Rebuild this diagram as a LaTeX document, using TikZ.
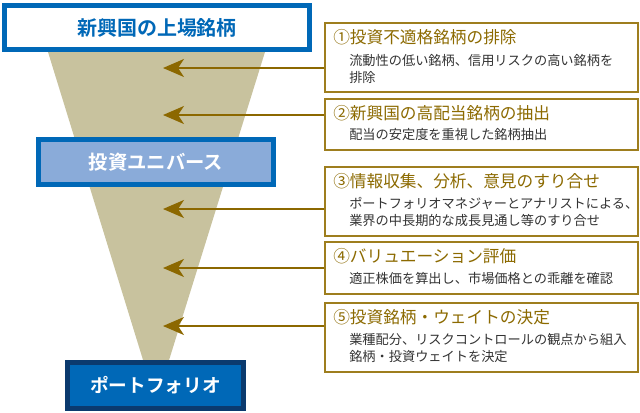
\documentclass[tikz,border=0pt]{standalone}
\usepackage{fontspec}
\setmainfont{Noto Sans CJK JP}[BoldFont={Noto Sans CJK JP Bold}]
\usepackage{xcolor}
\usetikzlibrary{positioning, arrows.meta}

\definecolor{stageblue}{HTML}{0068B7}
\definecolor{stagelight}{HTML}{8AABD9}
\definecolor{stagenavy}{HTML}{0B3A6E}
\definecolor{funneltan}{HTML}{C8C29E}
\definecolor{feedbrown}{HTML}{8C6800}
\definecolor{stepgold}{HTML}{9E7E1E}
\definecolor{titlegold}{HTML}{8C6A00}
\definecolor{bodygray}{HTML}{333333}

\begin{document}
\begin{tikzpicture}[x=0.75pt, y=-0.75pt,
  every node/.style={inner sep=0pt},
  stagebox/.style={draw=stageblue, line width=3.75pt, font=\bfseries\fontsize{15}{18}\selectfont},
  stepbox/.style={draw=stepgold, line width=1.5pt, fill=white, anchor=north west, minimum width=234.75pt},
  steptitle/.style={anchor=west, text=titlegold, font=\fontsize{12.5}{15}\selectfont},
  stepbody/.style={anchor=west, align=left, text=bodygray, font=\fontsize{9.9}{12.75}\selectfont},
  feed/.style={draw=feedbrown, line width=1.5pt, -{Stealth[length=15.75pt, width=13.5pt, inset=4.5pt]}}]
\useasboundingbox (0,0) rectangle (640,412);
\coordinate (ftl) at (48, 52);
\coordinate (ftr) at (265, 52);
\coordinate (fbot) at (156, 402);
\fill [funneltan] (ftl) -- (ftr) -- (fbot) -- cycle;
\node [stagebox, fill=white, text=stageblue, minimum width=228.75pt, minimum height=33pt] (listed) at (157, 27.5) {新興国の上場銘柄};
\node [stagebox, fill=stagelight, text=white, minimum width=176.25pt, minimum height=33.75pt, font=\bfseries\fontsize{14.5}{17}\selectfont] (universe) at (156, 162) {投資ユニバース};
\node [stagebox, draw=stagenavy, fill=stageblue, text=white, minimum width=132pt, minimum height=34.5pt, font=\bfseries\fontsize{14}{17}\selectfont] (portfolio) at (155.5, 385.5) {ポートフォリオ};
\node [stepbox, minimum height=51.75pt] (s1) at (324, 22) {};
\node [stepbox, minimum height=38.25pt] (s2) at (324, 98) {};
\node [stepbox, minimum height=51.75pt] (s3) at (324, 166) {};
\node [stepbox, minimum height=39pt] (s4) at (324, 241) {};
\node [stepbox, minimum height=51.75pt] (s5) at (324, 302) {};
\node [steptitle] (s1t) at ([shift={(9, 15.5)}]s1.north west) {①投資不適格銘柄の排除};
\node [steptitle] (s2t) at ([shift={(9, 15.5)}]s2.north west) {②新興国の高配当銘柄の抽出};
\node [steptitle] (s3t) at ([shift={(9, 15.5)}]s3.north west) {③情報収集、分析、意見のすり合せ};
\node [steptitle] (s4t) at ([shift={(9, 15.5)}]s4.north west) {④バリュエーション評価};
\node [steptitle] (s5t) at ([shift={(9, 15.5)}]s5.north west) {⑤投資銘柄・ウェイトの決定};
\node [stepbody] (s1b) at ([shift={(25, 46.5)}]s1.north west) {流動性の低い銘柄、信用リスクの高い銘柄を\\排除};
\node [stepbody] (s2b) at ([shift={(25, 37)}]s2.north west) {配当の安定度を重視した銘柄抽出};
\node [stepbody] (s3b) at ([shift={(25, 46)}]s3.north west) {ポートフォリオマネジャーとアナリストによる、\\業界の中長期的な成長見通し等のすり合せ};
\node [stepbody] (s4b) at ([shift={(25, 37)}]s4.north west) {適正株価を算出し、市場価格との乖離を確認};
\node [stepbody] (s5b) at ([shift={(25, 46)}]s5.north west) {業種配分、リスクコントロールの観点から組入\\銘柄・投資ウェイトを決定};
\coordinate (t1) at (163, 68);
\coordinate (t2) at (163, 115);
\coordinate (t3) at (163, 209);
\coordinate (t4) at (163, 268);
\coordinate (t5) at (163, 326);
\draw [feed] (s1.west |- t1) -- (t1);
\draw [feed] (s2.west |- t2) -- (t2);
\draw [feed] (s3.west |- t3) -- (t3);
\draw [feed] (s4.west |- t4) -- (t4);
\draw [feed] (s5.west |- t5) -- (t5);
\end{tikzpicture}
\end{document}
